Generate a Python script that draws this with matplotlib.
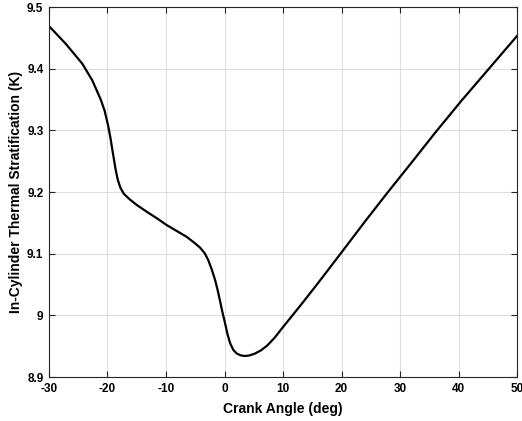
import numpy as np
import matplotlib.pyplot as plt
from matplotlib.ticker import FuncFormatter

# crank angle (deg) vs in-cylinder thermal stratification (K)
crank = [-30, -27.15, -24.3, -22.6, -21.16, -20.5, -19.9, -19.5, -19.2, -18.9,
         -18.6, -18.25, -17.8, -17.2, -16.2, -15.0, -13.3, -11.5, -9.9, -8.2,
         -6.5, -5.2, -4.2, -3.4, -2.8, -2.2, -1.6, -1.2, -0.8, -0.4, 0.1, 0.5,
         0.95, 1.5, 2.1, 2.8, 3.5, 4.3, 5.2, 6.2, 7.3, 8.6, 10.0, 12.9, 15.8,
         20.0, 24.0, 27.7, 32.0, 36.0, 40.5, 45.3, 50.0]
strat = [9.469, 9.4405, 9.408, 9.381, 9.350, 9.332, 9.308, 9.288, 9.270, 9.253,
         9.236, 9.220, 9.207, 9.197, 9.188, 9.179, 9.168, 9.157, 9.1465, 9.137,
         9.1275, 9.118, 9.110, 9.101, 9.090, 9.075, 9.057, 9.042, 9.025, 9.007,
         8.987, 8.970, 8.955, 8.944, 8.938, 8.935, 8.934, 8.935, 8.938, 8.943,
         8.951, 8.964, 8.981, 9.015, 9.050, 9.102, 9.152, 9.197, 9.248, 9.296,
         9.348, 9.401, 9.453]

plt.rcParams['font.family'] = ['Liberation Sans', 'DejaVu Sans']
plt.rcParams['axes.unicode_minus'] = False

fig = plt.figure(figsize=(5.22, 4.21), dpi=100)
ax = fig.add_axes([49/522, 1-377/421, 468/522, 370/421])
ax.plot(crank, strat, 'k-', lw=1.6)

ax.set_xlim(-30, 50)
ax.set_ylim(8.9, 9.5)
ax.set_xticks(np.arange(-30, 51, 10))
ax.set_yticks(np.arange(8.9, 9.51, 0.1))
ax.yaxis.set_major_formatter(FuncFormatter(lambda v, p: '%g' % round(v, 1)))
ax.grid(True, color='#dedede', lw=0.8)
ax.set_axisbelow(True)
ax.tick_params(direction='in', top=True, right=True, length=4, width=0.8,
               labelsize=8.5, color='#262626', pad=4)
for lab in ax.get_xticklabels() + ax.get_yticklabels():
    lab.set_fontweight('bold')
for s in ax.spines.values():
    s.set_color('#262626')
    s.set_linewidth(0.8)
ax.set_xlabel('Crank Angle (deg)', fontsize=10, fontweight='bold', labelpad=5)
ax.set_ylabel('In-Cylinder Thermal Stratification (K)', fontsize=10, fontweight='bold', labelpad=3)

fig.savefig('out.png', dpi=100)
